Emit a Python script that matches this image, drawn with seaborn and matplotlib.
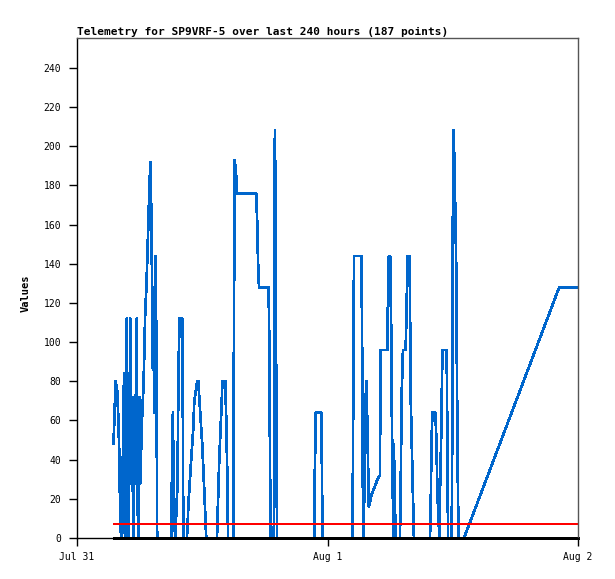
import numpy as np
import pandas as pd
import seaborn as sns
import matplotlib.pyplot as plt

# hours since Jul 31 00:00 and telemetry values
hours = [
    3.50, 3.55, 3.65, 3.70, 3.84, 3.94, 4.03, 4.13, 4.22, 4.27,
    4.32, 4.42, 4.51, 4.56, 4.61, 4.68, 4.75, 4.83, 4.90, 4.96,
    5.04, 5.12, 5.18, 5.25, 5.31, 5.38, 5.44, 5.52, 5.60, 5.66,
    5.73, 5.79, 5.86, 5.92, 5.98, 6.05, 6.14, 6.24, 6.38, 6.53,
    6.67, 6.77, 6.86, 6.96, 7.06, 7.10, 7.20, 7.27, 7.34, 7.44,
    7.54, 7.63, 7.68, 9.02, 9.07, 9.12, 9.19, 9.26, 9.41, 9.63,
    9.72, 9.82, 10.08, 10.15, 10.18, 10.53, 10.61, 10.66, 10.75, 10.85,
    10.94, 11.04, 11.14, 11.23, 11.40, 11.52, 11.62, 11.71, 11.81, 11.90,
    12.00, 12.10, 12.19, 12.29, 12.38, 13.41, 13.47, 13.54, 13.63, 13.76,
    13.89, 13.92, 14.21, 14.30, 14.40, 14.47, 15.00, 15.03, 15.10, 15.22,
    15.33, 17.16, 17.25, 17.35, 17.44, 18.36, 18.43, 18.50, 18.56, 18.86,
    18.89, 18.96, 19.04, 19.10, 19.17, 22.72, 22.78, 22.88, 23.42, 23.47,
    23.52, 26.40, 26.43, 26.50, 26.54, 27.26, 27.33, 27.39, 27.48, 27.58,
    27.72, 27.81, 27.91, 27.96, 28.22, 28.51, 28.80, 29.02, 29.09, 29.73,
    29.79, 29.88, 30.00, 30.10, 30.17, 30.31, 30.36, 30.43, 30.53, 30.94,
    31.01, 31.10, 31.23, 31.49, 31.58, 31.68, 31.87, 31.97, 32.13, 32.23,
    32.28, 33.82, 33.89, 33.96, 34.05, 34.34, 34.44, 34.53, 34.59, 34.72,
    34.78, 34.88, 34.94, 35.01, 35.42, 35.49, 35.55, 35.90, 35.95, 36.00,
    36.07, 36.16, 36.32, 36.45, 36.55, 37.08, 46.20, 48.00,
]
values = [
    48, 56, 72, 80, 76, 64, 48, 16, 0, 16,
    0, 56, 84, 28, 84, 0, 112, 28, 84, 0,
    72, 112, 28, 72, 24, 72, 0, 72, 28, 96,
    112, 28, 0, 32, 72, 28, 44, 62, 79, 114,
    131, 149, 166, 183, 192, 172, 128, 86, 125, 64,
    144, 73, 0, 0, 16, 48, 64, 16, 0, 28,
    84, 112, 112, 56, 0, 0, 8, 16, 24, 32,
    40, 48, 56, 69, 76, 80, 80, 72, 64, 56,
    48, 36, 24, 12, 0, 0, 12, 24, 40, 56,
    73, 80, 80, 60, 32, 0, 0, 97, 193, 188,
    176, 176, 164, 140, 128, 128, 96, 32, 0, 0,
    105, 208, 156, 52, 0, 0, 32, 64, 64, 32,
    0, 0, 36, 108, 144, 144, 88, 24, 0, 60,
    80, 60, 32, 16, 22, 26, 30, 32, 96, 96,
    120, 144, 144, 108, 60, 0, 48, 24, 0, 0,
    24, 72, 96, 96, 120, 144, 144, 72, 36, 12,
    0, 0, 16, 48, 64, 64, 48, 23, 16, 0,
    24, 48, 72, 96, 96, 48, 0, 0, 52, 156,
    208, 192, 144, 48, 0, 0, 128, 128,
]
limit_hours = [3.50, 48.00]
red_values = [7, 7]
black_values = [0, 0]

tick_hours = [0, 24, 48]
tick_labels = ["Jul 31", "Aug 1", "Aug 2"]
y_ticks = list(range(0, 241, 20))

df = pd.DataFrame({"hour": hours, "value": values})
df_red = pd.DataFrame({"hour": limit_hours, "value": red_values})
df_black = pd.DataFrame({"hour": limit_hours, "value": black_values})

sns.set_theme(style="white")
plt.rcParams["font.family"] = ["DejaVu Sans Mono", "DejaVu Sans"]

fig = plt.figure(figsize=(6.15, 5.79), dpi=100)
ax = fig.add_axes([77 / 615, 1 - 538 / 579, 501 / 615, 500 / 579])

sns.lineplot(data=df, x="hour", y="value", ax=ax, color="#0066CC",
             linewidth=1.25, estimator=None, sort=False, antialiased=False)
sns.lineplot(data=df_red, x="hour", y="value", ax=ax, color="#FF0000",
             linewidth=1.3, estimator=None, sort=False, antialiased=False)
sns.lineplot(data=df_black, x="hour", y="value", ax=ax, color="black",
             linewidth=1.9, estimator=None, sort=False, antialiased=False,
             clip_on=False)

ax.set_xlim(0, 48)
ax.set_ylim(0, 255.3)
ax.set_xticks(tick_hours)
ax.set_xticklabels(tick_labels)
ax.set_yticks(y_ticks)
ax.tick_params(axis="both", direction="out", length=5.8, width=1,
               color="black", labelsize=7, labelcolor="black",
               bottom=True, left=True)
ax.tick_params(axis="x", pad=4)
ax.tick_params(axis="y", pad=5.5)
ax.grid(False)

for side in ["left", "bottom"]:
    ax.spines[side].set_color("black")
    ax.spines[side].set_linewidth(1)
for side in ["top", "right"]:
    ax.spines[side].set_color("#555555")
    ax.spines[side].set_linewidth(1)

ax.set_xlabel("")
ax.set_ylabel("Values", fontsize=7.5, fontweight="bold", color="black")
ax.yaxis.set_label_coords(-0.092, 0.49)
ax.set_title("Telemetry for SP9VRF-5 over last 240 hours (187 points)",
             loc="left", fontsize=8, fontweight="bold", color="black", pad=2)

fig.savefig("out.png", dpi=100, facecolor="white")
